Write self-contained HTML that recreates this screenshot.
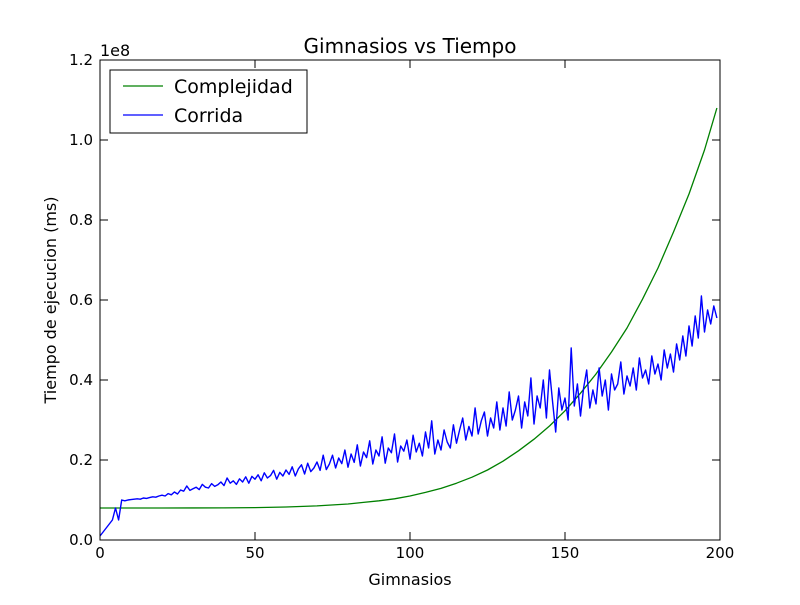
<!DOCTYPE html>
<html><head><meta charset="utf-8"><style>
body{margin:0;background:#fff}
text{font-family:"DejaVu Sans","Liberation Sans",sans-serif;fill:#000}
</style></head><body>
<svg id="chart" width="800" height="600" xmlns="http://www.w3.org/2000/svg">
<rect width="800" height="600" fill="#fff"/>
<g id="marks"></g>
<rect x="100" y="60" width="620" height="480" fill="none" stroke="#000" stroke-width="1"/>
<g id="axes"></g>
<text x="410" y="53" font-size="20" text-anchor="middle">Gimnasios vs Tiempo</text>
<text x="410" y="585" font-size="16" text-anchor="middle">Gimnasios</text>
<text x="56" y="300" font-size="16" text-anchor="middle" transform="rotate(-90 56 300)">Tiempo de ejecucion (ms)</text>
<text x="100" y="56" font-size="16">1e8</text>
<g>
<rect x="110" y="70" width="197" height="63" fill="#fff" stroke="#000"/>
<line x1="123" y1="86" x2="163" y2="86" stroke="#008000" stroke-width="1.3"/>
<text x="174" y="93" font-size="19">Complejidad</text>
<line x1="123" y1="115" x2="163" y2="115" stroke="#0000ff" stroke-width="1.3"/>
<text x="174" y="122" font-size="19">Corrida</text>
</g>
</svg>
<script>
const xTicks=[0,50,100,150,200];
const yTicks=[0,0.2,0.4,0.6,0.8,1.0,1.2];
const greenX=[0,10,20,30,40,50,60,70,80,85,90,95,100,105,110,115,120,125,130,135,140,145,150,155,160,165,170,175,180,185,190,195,199];
const greenY=[8,8,8,8.01,8.03,8.1,8.25,8.53,9.0,9.4,9.8,10.3,11.0,11.9,12.9,14.2,15.7,17.5,19.7,22.3,25.2,28.5,32.3,36.7,41.5,47.0,53.0,60.2,68.0,77.0,86.5,97.5,108];
const blueY=[1,2,3,4,5,8,5,10,9.8,10,
10.1,10.2,10.3,10.2,10.5,10.4,10.6,10.8,10.7,11,
11.2,11.0,11.6,11.3,12.0,11.5,12.5,12.2,13.5,12.4,
12.8,13.2,12.6,13.9,13.2,13.0,14.1,13.4,13.8,14.5,
13.6,15.5,14.2,14.8,13.9,15.3,14.5,15.8,14.2,15.9,
15.2,16.3,14.8,16.8,15.5,16.1,17.4,15.2,16.9,16.0,
17.5,16.4,18.3,16.0,17.8,18.8,16.5,19.2,17.1,18.0,
19.5,17.4,21.2,17.6,19.0,21.2,18.0,20.5,19.1,22.5,
18.2,21.5,19.4,23.8,18.5,22.0,20.6,24.8,19.0,22.5,
21.0,25.8,19.2,23.0,21.8,26.5,19.5,23.5,22.2,25.0,
20.2,26.2,22.0,24.2,21.0,27.0,23.0,29.8,21.5,25.0,
22.5,27.5,24.5,23.0,28.8,24.2,27.5,30.5,25.0,28.4,
26.0,33.0,26.5,29.8,32.0,26.0,30.5,28.0,34.5,27.5,
33.0,28.5,37.0,30.0,32.5,36.0,28.0,34.5,31.0,40.5,
29.0,36.0,33.0,40.0,30.5,42.5,34.5,27.0,38.0,32.5,
35.5,30.0,48.0,33.5,39.0,31.0,38.0,42.5,33.0,37.5,
34.0,43.0,36.0,40.0,32.5,41.5,37.5,39.0,44.5,36.5,
41.0,38.5,43.0,37.5,45.5,40.5,42.5,39.0,46.0,41.5,
44.0,40.0,47.5,43.0,46.5,42.0,49.0,45.0,51.0,46.0,
53.5,48.5,56.0,50.5,61.0,52.0,57.5,54.0,58.5,55.5];
const sx=v=>100+v/200*620;
const sy=v=>540-v/120*480;
const NS="http://www.w3.org/2000/svg";
const marks=document.getElementById('marks'), axes=document.getElementById('axes');
function mk(t,a,p){const e=document.createElementNS(NS,t);for(const k in a)e.setAttribute(k,a[k]);p.appendChild(e);return e;}
let d=greenX.map((x,i)=>(i?'L':'M')+sx(x)+','+sy(greenY[i])).join('');
const g=mk('path',{d:d,fill:'none',stroke:'#008000','stroke-width':1.3,'stroke-linejoin':'round'},marks);


d=blueY.map((v,i)=>(i?'L':'M')+sx(i)+','+sy(v)).join('');
const b=mk('path',{d:d,fill:'none',stroke:'#0000ff','stroke-width':1.4,'stroke-linejoin':'round'},marks);


xTicks.forEach(t=>{const x=sx(t);
mk('line',{x1:x,y1:540,x2:x,y2:532,stroke:'#000'},axes);
mk('line',{x1:x,y1:60,x2:x,y2:68,stroke:'#000'},axes);
const tx=mk('text',{x:x,y:558,'font-size':15,'text-anchor':'middle'},axes);tx.textContent=t;

});
yTicks.forEach(t=>{const y=sy(t*100);
mk('line',{x1:100,y1:y,x2:108,y2:y,stroke:'#000'},axes);
mk('line',{x1:712,y1:y,x2:720,y2:y,stroke:'#000'},axes);
const tx=mk('text',{x:93,y:y+5,'font-size':15,'text-anchor':'end'},axes);tx.textContent=t.toFixed(1);

});
</script>
</body></html>
